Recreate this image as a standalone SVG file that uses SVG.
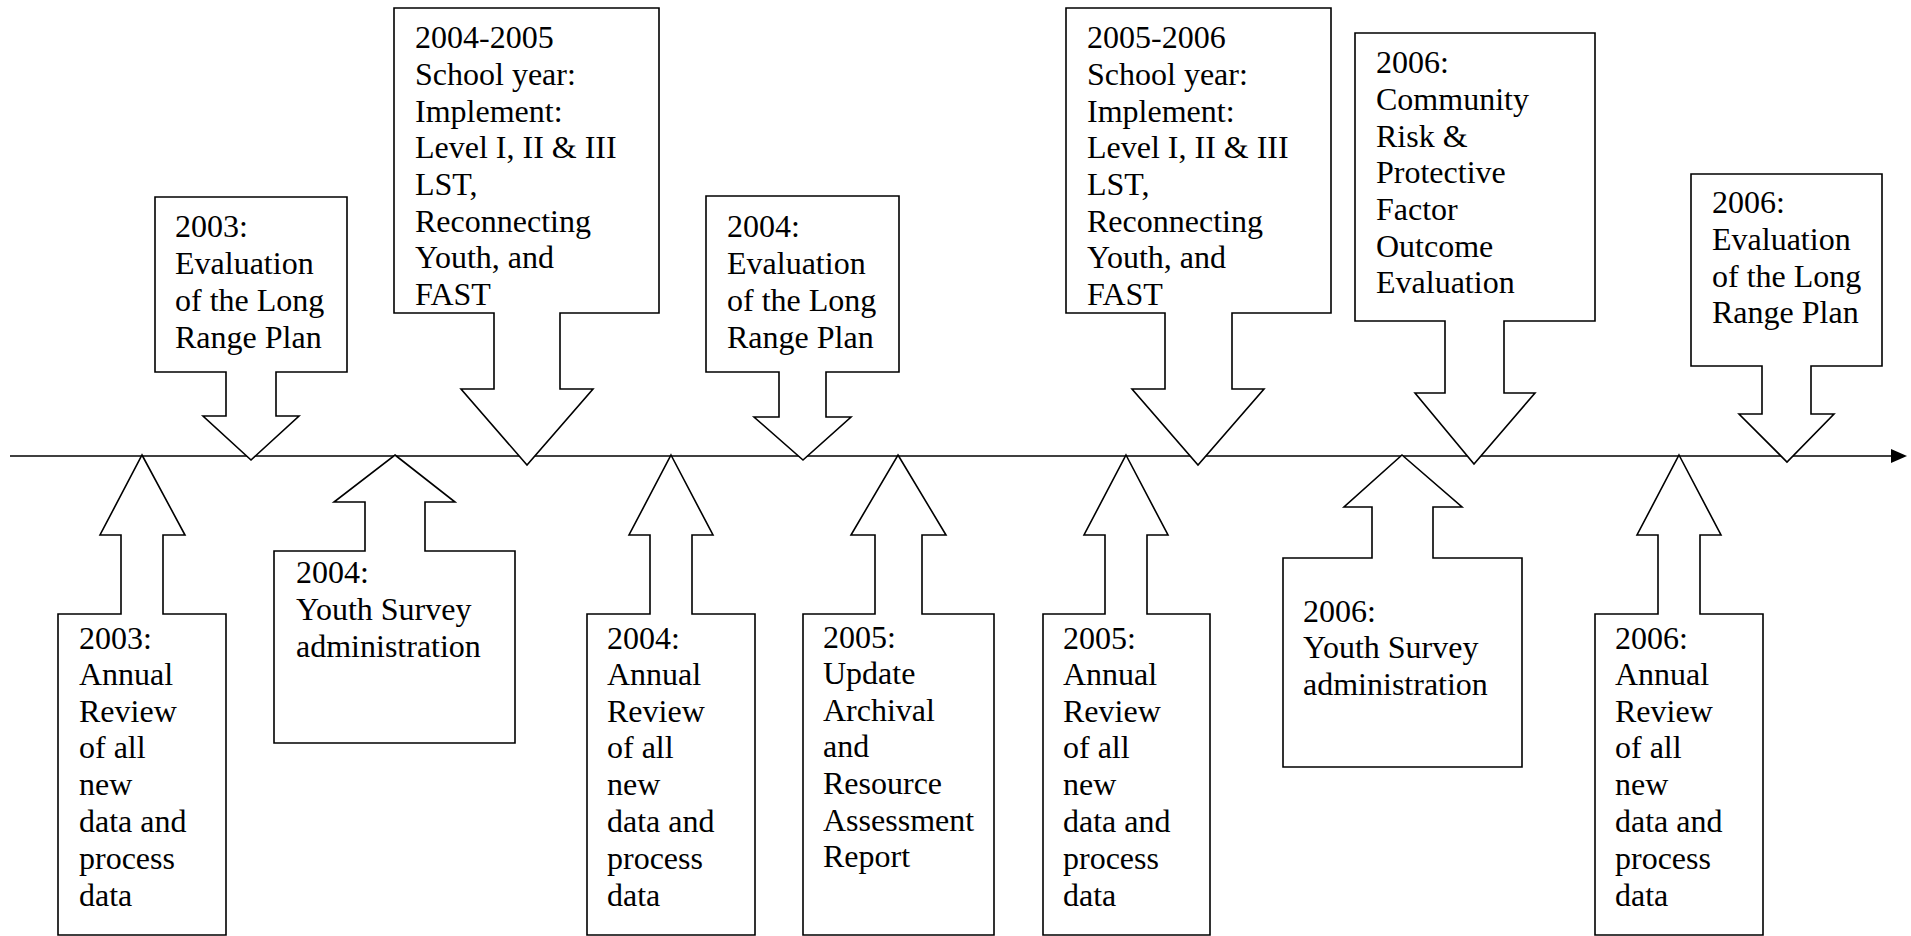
<svg xmlns="http://www.w3.org/2000/svg" width="1911" height="936" viewBox="0 0 1911 936">
<style>
.c{fill:#fff;stroke:#000;stroke-width:1.6;stroke-linejoin:miter}
.t{font-family:'Liberation Serif','Times New Roman',Tinos,'DejaVu Serif',serif;font-size:32px;fill:#000}
</style>
<rect width="1911" height="936" fill="#fff"/>
<g id="connectors">
<line x1="10" y1="456" x2="1892" y2="456" stroke="#000" stroke-width="1.6"/>
<polygon points="1891,449 1907,456 1891,463" fill="#000"/>
</g>
<g id="top1">
<polygon class="c" points="155,197 347,197 347,372 276,372 276,416 299,416 251,460 203,416 226,416 226,372 155,372"/>
<text class="t" font-family="Liberation Serif, Times New Roman, serif"><tspan x="175" y="237">2003:</tspan><tspan x="175" y="274">Evaluation</tspan><tspan x="175" y="311">of the Long</tspan><tspan x="175" y="348">Range Plan</tspan></text>
</g>
<g id="top2">
<polygon class="c" points="394,8 659,8 659,313 560,313 560,389 593,389 527,465 461,389 494,389 494,313 394,313"/>
<text class="t"><tspan x="415" y="48">2004-2005</tspan><tspan x="415" y="85">School year:</tspan><tspan x="415" y="122">Implement:</tspan><tspan x="415" y="158">Level I, II &amp; III</tspan><tspan x="415" y="195">LST,</tspan><tspan x="415" y="232">Reconnecting</tspan><tspan x="415" y="268">Youth, and</tspan><tspan x="415" y="305">FAST</tspan></text>
</g>
<g id="top3">
<polygon class="c" points="706,196 899,196 899,372 826,372 826,417 851,417 803,460 754,417 779,417 779,372 706,372"/>
<text class="t"><tspan x="727" y="237">2004:</tspan><tspan x="727" y="274">Evaluation</tspan><tspan x="727" y="311">of the Long</tspan><tspan x="727" y="348">Range Plan</tspan></text>
</g>
<g id="top4">
<polygon class="c" points="1066,8 1331,8 1331,313 1232,313 1232,389 1264,389 1198,465 1132,389 1165,389 1165,313 1066,313"/>
<text class="t"><tspan x="1087" y="48">2005-2006</tspan><tspan x="1087" y="85">School year:</tspan><tspan x="1087" y="122">Implement:</tspan><tspan x="1087" y="158">Level I, II &amp; III</tspan><tspan x="1087" y="195">LST,</tspan><tspan x="1087" y="232">Reconnecting</tspan><tspan x="1087" y="268">Youth, and</tspan><tspan x="1087" y="305">FAST</tspan></text>
</g>
<g id="top5">
<polygon class="c" points="1355,33 1595,33 1595,321 1504,321 1504,393 1535,393 1474,464 1415,393 1445,393 1445,321 1355,321"/>
<text class="t"><tspan x="1376" y="73">2006:</tspan><tspan x="1376" y="110">Community</tspan><tspan x="1376" y="147">Risk &amp;</tspan><tspan x="1376" y="183">Protective</tspan><tspan x="1376" y="220">Factor</tspan><tspan x="1376" y="257">Outcome</tspan><tspan x="1376" y="293">Evaluation</tspan></text>
</g>
<g id="top6">
<polygon class="c" points="1691,174 1882,174 1882,366 1811,366 1811,414 1834,414 1787,462 1739,414 1762,414 1762,366 1691,366"/>
<text class="t"><tspan x="1712" y="213">2006:</tspan><tspan x="1712" y="250">Evaluation</tspan><tspan x="1712" y="287">of the Long</tspan><tspan x="1712" y="323">Range Plan</tspan></text>
</g>
<g id="bottom1">
<polygon class="c" points="142,455 185,535 163,535 163,614 226,614 226,935 58,935 58,614 121,614 121,535 100,535"/>
<text class="t"><tspan x="79" y="649">2003:</tspan><tspan x="79" y="685">Annual</tspan><tspan x="79" y="722">Review</tspan><tspan x="79" y="758">of all</tspan><tspan x="79" y="795">new</tspan><tspan x="79" y="832">data and</tspan><tspan x="79" y="869">process</tspan><tspan x="79" y="906">data</tspan></text>
</g>
<g id="bottom2">
<polygon class="c" points="395,455 455,502 425,502 425,551 515,551 515,743 274,743 274,551 365,551 365,502 334,502"/>
<text class="t"><tspan x="296" y="583">2004:</tspan><tspan x="296" y="620">Youth Survey</tspan><tspan x="296" y="657">administration</tspan></text>
</g>
<g id="bottom3">
<polygon class="c" points="671,455 713,535 692,535 692,614 755,614 755,935 587,935 587,614 650,614 650,535 629,535"/>
<text class="t"><tspan x="607" y="649">2004:</tspan><tspan x="607" y="685">Annual</tspan><tspan x="607" y="722">Review</tspan><tspan x="607" y="758">of all</tspan><tspan x="607" y="795">new</tspan><tspan x="607" y="832">data and</tspan><tspan x="607" y="869">process</tspan><tspan x="607" y="906">data</tspan></text>
</g>
<g id="bottom4">
<polygon class="c" points="898,455 946,535 922,535 922,614 994,614 994,935 803,935 803,614 875,614 875,535 851,535"/>
<text class="t"><tspan x="823" y="648">2005:</tspan><tspan x="823" y="684">Update</tspan><tspan x="823" y="721">Archival</tspan><tspan x="823" y="757">and</tspan><tspan x="823" y="794">Resource</tspan><tspan x="823" y="831">Assessment</tspan><tspan x="823" y="867">Report</tspan></text>
</g>
<g id="bottom5">
<polygon class="c" points="1126,455 1168,535 1147,535 1147,614 1210,614 1210,935 1043,935 1043,614 1105,614 1105,535 1084,535"/>
<text class="t"><tspan x="1063" y="649">2005:</tspan><tspan x="1063" y="685">Annual</tspan><tspan x="1063" y="722">Review</tspan><tspan x="1063" y="758">of all</tspan><tspan x="1063" y="795">new</tspan><tspan x="1063" y="832">data and</tspan><tspan x="1063" y="869">process</tspan><tspan x="1063" y="906">data</tspan></text>
</g>
<g id="bottom6">
<polygon class="c" points="1402,455 1462,507 1433,507 1433,558 1522,558 1522,767 1283,767 1283,558 1372,558 1372,507 1344,507"/>
<text class="t"><tspan x="1303" y="622">2006:</tspan><tspan x="1303" y="658">Youth Survey</tspan><tspan x="1303" y="695">administration</tspan></text>
</g>
<g id="bottom7">
<polygon class="c" points="1679,455 1721,535 1700,535 1700,614 1763,614 1763,935 1595,935 1595,614 1658,614 1658,535 1637,535"/>
<text class="t"><tspan x="1615" y="649">2006:</tspan><tspan x="1615" y="685">Annual</tspan><tspan x="1615" y="722">Review</tspan><tspan x="1615" y="758">of all</tspan><tspan x="1615" y="795">new</tspan><tspan x="1615" y="832">data and</tspan><tspan x="1615" y="869">process</tspan><tspan x="1615" y="906">data</tspan></text>
</g>
</svg>
